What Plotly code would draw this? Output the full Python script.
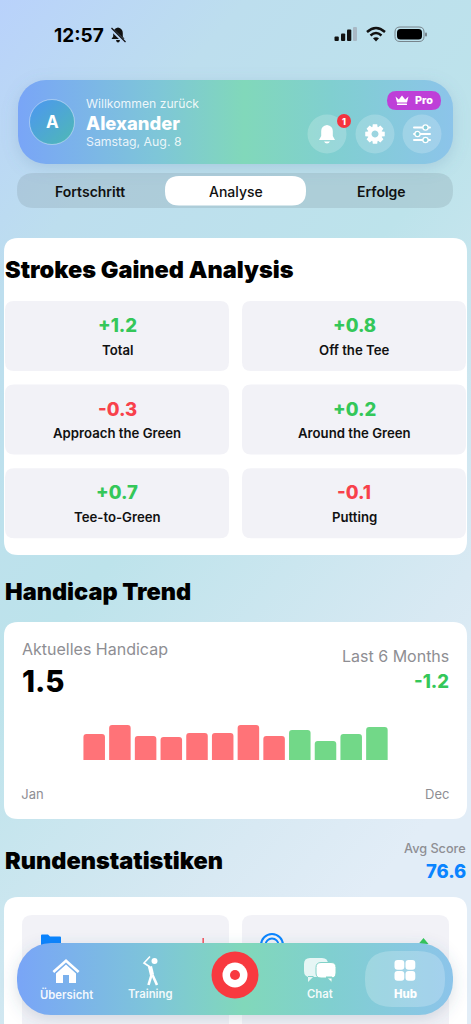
import base64, re, math
import plotly.graph_objects as go

# ---- data ----
months = list(range(12))
handicap_values = [2.6, 3.5, 2.4, 2.3, 2.7, 2.7, 3.5, 2.4, 3.0, 1.9, 2.6, 3.3]
bar_states = ["up", "up", "up", "up", "up", "up", "up", "up", "down", "down", "down", "down"]
tick_positions = [-2.4, 13.35]
tick_labels = ["Jan", "Dec"]
sg_labels = ["Total", "Off the Tee", "Approach the Green", "Around the Green", "Tee-to-Green", "Putting"]
sg_values = [1.2, 0.8, -0.3, 0.2, 0.7, -0.1]

W, H = 471, 1024
FONT = "Inter"
RED, GREEN = "#F8414B", "#34C759"
BAR_COL = {"up": "#FF7378", "down": "#72D888"}
GRAY = "#8E8E93"
shapes, notes = [], []


def rr(x0, y0, x1, y1, r):
    return (f"M {x0+r} {y0} L {x1-r} {y0} Q {x1} {y0} {x1} {y0+r} L {x1} {y1-r} Q {x1} {y1} {x1-r} {y1} "
            f"L {x0+r} {y1} Q {x0} {y1} {x0} {y1-r} L {x0} {y0+r} Q {x0} {y0} {x0+r} {y0} Z")


def shift(path, cx, cy):
    out, isx = [], True
    for tok in path.split():
        if re.match(r"^[A-Za-z]$", tok):
            out.append(tok)
            isx = True
        else:
            out.append(str(float(tok) + (cx if isx else cy)))
            isx = not isx
    return " ".join(out)


def P(path, fill="white", layer="below", line=None, lw=0):
    shapes.append(dict(type="path", path=path, xref="x", yref="y", layer=layer,
                       fillcolor=fill, line=dict(width=lw, color=line or "rgba(0,0,0,0)")))


def C(cx, cy, r, fill, layer="below", line=None, lw=0):
    shapes.append(dict(type="circle", xref="x", yref="y", x0=cx-r, x1=cx+r, y0=cy-r, y1=cy+r, layer=layer,
                       fillcolor=fill, line=dict(width=lw, color=line or "rgba(0,0,0,0)")))


def L(path, color="white", lw=2, layer="below"):
    shapes.append(dict(type="path", path=path, xref="x", yref="y", layer=layer,
                       fillcolor="rgba(0,0,0,0)", line=dict(width=lw, color=color)))


def T(text, x, y, size, color="#000000", weight=400, anchor="left"):
    notes.append(dict(text=text, x=x, y=y, xref="x", yref="y", showarrow=False, xanchor=anchor, yanchor="middle",
                      borderpad=0, font=dict(family=FONT, size=size, color=color, weight=weight)))


BAND = ('<stop offset="0" stop-color="#79A5F7"/><stop offset=".32" stop-color="#7EC6D8"/>'
        '<stop offset=".52" stop-color="#81D8BA"/><stop offset=".72" stop-color="#80CFD0"/>'
        '<stop offset="1" stop-color="#8CC4EA"/>')


def svg(body):
    s = (f'<svg xmlns="http://www.w3.org/2000/svg" width="{W*2}" height="{H*2}" viewBox="0 0 {W} {H}"><defs>'
         f'<linearGradient id="bg" x1="0" y1="0" x2="0.55" y2="1"><stop offset="0" stop-color="#B9D2FB"/>'
         f'<stop offset=".22" stop-color="#BDDEEE"/><stop offset=".52" stop-color="#BDE3EB"/>'
         f'<stop offset=".85" stop-color="#D8E9F3"/><stop offset="1" stop-color="#E2EDF7"/></linearGradient>'
         f'<linearGradient id="band" x1="0" y1="0" x2="1" y2="0">{BAND}</linearGradient>'
         f'<linearGradient id="av" x1="0" y1="0" x2="1" y2="1"><stop offset="0" stop-color="#4C96F2"/>'
         f'<stop offset="1" stop-color="#4FB9B4"/></linearGradient>'
         f'<filter id="sh" x="-20%" y="-60%" width="140%" height="220%"><feGaussianBlur stdDeviation="8"/></filter>'
         f'</defs>{body}</svg>')
    return "data:image/svg+xml;base64," + base64.b64encode(s.encode()).decode()


bg_svg = svg(
    f'<rect width="{W}" height="{H}" fill="url(#bg)"/>'
    '<rect x="18" y="84" width="435" height="84" rx="28" fill="#5A7FA8" fill-opacity=".22" filter="url(#sh)"/>'
    '<rect x="18" y="80" width="435" height="84" rx="28" fill="url(#band)"/>'
    '<circle cx="52" cy="122" r="22.5" fill="url(#av)" stroke="#FFFFFF" stroke-opacity=".4" stroke-width="1"/>')
nav_svg = svg(
    '<rect x="17" y="947" width="436" height="72" rx="34" fill="#40607A" fill-opacity=".2" filter="url(#sh)"/>'
    '<rect x="17" y="943" width="436" height="72" rx="34" fill="url(#band)"/>')
images = [dict(source=s, xref="paper", yref="paper", x=0, y=1, sizex=1, sizey=1, xanchor="left", yanchor="top",
               sizing="stretch", layer=l) for s, l in ((bg_svg, "below"), (nav_svg, "above"))]

# ---- status bar ----
T("12:57", 52.5, 35, 19, "#000000", 700)
P(shift("M -6.5 4 L -4.8 1.5 L -4.8 -2 Q -4.8 -6.5 0 -7.5 Q 4.8 -6.5 4.8 -2 L 4.8 1.5 L 6.5 4 Z", 118, 35), "#111111")
P(shift("M -2 5 L 2 5 Q 1.5 7.5 0 7.5 Q -1.5 7.5 -2 5 Z", 118, 35), "#111111")
L("M 110.5 28.5 L 125 42.5", "#BBD6F6", 3.2)
L("M 111.5 28 L 125.5 42", "#111111", 1.3)
for x0, x1, top, col in ((334.5, 338.8, 36.5, "#111"), (341, 345.2, 33.5, "#111"), (347, 351.3, 29.5, "#111"), (353, 357, 27, "#A9B8C4")):
    P(rr(x0, top, x1, 41, 1), col)
L("M 367 32 Q 376 24 385 32", "#111111", 2.4)
L("M 370.5 35.5 Q 376 30.5 381.5 35.5", "#111111", 2.4)
P("M 373 38.3 Q 376 36 379 38.3 L 376 41.5 Z", "#111111")
P(rr(395, 27, 424, 41.5, 5), "rgba(0,0,0,0)", line="#77848C", lw=1)
P(rr(397, 29, 422, 39.5, 3.5), "#000000")
P(rr(425, 32.5, 427, 36.5, 1), "#77848C")

# ---- header ----
T("A", 52, 122, 17, "white", 700, "center")
T("Willkommen zurück", 85, 103, 12.2, "rgba(255,255,255,.88)", 400)
T("Alexander", 85, 122.5, 18.4, "white", 800)
T("Samstag, Aug. 8", 85, 141, 12.3, "rgba(255,255,255,.85)", 400)
P(rr(387, 91, 441, 110, 9.5), "#BE3FD8")
P(shift("M -6.5 -4 L -3.2 -1 L 0 -5 L 3.2 -1 L 6.5 -4 L 5 2 L -5 2 Z", 402, 100.5))
P(rr(397, 103.5, 407, 105, .5))
T("Pro", 414, 100.5, 10.8, "white", 800)
for cx in (327, 375, 422):
    C(cx, 134, 19.5, "rgba(255,255,255,.2)")
P(shift("M -8 6 L -5.8 2 L -5.8 -3 Q -5.8 -8 0 -9 Q 5.8 -8 5.8 -3 L 5.8 2 L 8 6 Z", 327, 134))
P(shift("M -3 7.5 L 3 7.5 Q 2 9.5 0 9.5 Q -2 9.5 -3 7.5 Z", 327, 134))
C(344, 121, 7, "#F5333F")
T("1", 344, 121, 9, "white", 800, "center")
gear = []
for k in range(8):
    a = k * math.pi / 4
    for da, r in ((-.36, 7.4), (-.22, 10), (.22, 10), (.36, 7.4)):
        gear.append((375 + r * math.cos(a + da), 134 + r * math.sin(a + da)))
hole = [(375 + 3.5 * math.cos(k * math.pi / 10), 134 + 3.5 * math.sin(k * math.pi / 10)) for k in range(20)]
gpath = "M " + " L ".join(f"{x:.2f} {y:.2f}" for x, y in gear) + " Z M " + " L ".join(f"{x:.2f} {y:.2f}" for x, y in hole) + " Z"
P(gpath)
for y, kx in ((127.5, 425.5), (134, 417.5), (140, 425.5)):
    P(rr(413, y - 1, 431, y + 1, 1))
    C(kx, y, 2.6, "#84CBD8", line="white", lw=1.3)

# ---- segmented control ----
P(rr(17, 173, 453, 208, 17), "rgba(110,130,140,.2)")
P(rr(165, 176, 306, 205.5, 14), "#FFFFFF")
T("Fortschritt", 90, 191, 14, "#111111", 600, "center")
T("Analyse", 235.5, 191, 14, "#111111", 500, "center")
T("Erfolge", 381, 191, 14, "#111111", 600, "center")

# ---- strokes gained ----
P(rr(4, 238, 467, 555, 14), "#FFFFFF")
T("Strokes Gained Analysis", 4, 269.5, 23.5, "#000000", 900)
for i, (lab, val) in enumerate(zip(sg_labels, sg_values)):
    col, row = i % 2, i // 2
    x0 = 5 if col == 0 else 242
    x1 = 229 if col == 0 else 466
    y0 = 301 + row * 83.6
    P(rr(x0, y0, x1, y0 + 70, 9), "#F2F2F7")
    T(f"{val:+.1f}", (x0 + x1) / 2, y0 + 24, 18.5, GREEN if val > 0 else RED, 800, "center")
    T(lab, (x0 + x1) / 2, y0 + 48.5, 13.2, "#111111", 600, "center")

# ---- handicap ----
T("Handicap Trend", 4, 591, 23.5, "#000000", 900)
P(rr(4, 622, 467, 819, 14), "#FFFFFF")
T("Aktuelles Handicap", 21, 649, 16, GRAY, 400)
T("1.5", 21, 681, 29.5, "#000000", 800)
T("Last 6 Months", 449.5, 656, 16, GRAY, 400, "right")
T("-1.2", 449.5, 681, 18.4, GREEN, 800, "right")

# ---- round stats ----
T("Rundenstatistiken", 4, 860, 23.5, "#000000", 900)
T("Avg Score", 466.5, 848, 12.7, GRAY, 500, "right")
T("76.6", 466.5, 870.5, 18.4, "#0A84FF", 800, "right")
P("M 4 1040 L 4 911 Q 4 897 18 897 L 453 897 Q 467 897 467 911 L 467 1040 Z", "#FFFFFF")
P(rr(22, 915, 229, 1040, 10), "#F2F2F7")
P(rr(242, 915, 449, 1040, 10), "#F2F2F7")
P("M 41 950 L 41 935.5 Q 41 934.5 42 934.5 L 48 934.5 L 50 936.5 L 60 936.5 Q 61 936.5 61 937.5 L 61 950 Z", "#0A84FF")
P("M 202.5 938 L 203.8 938 L 203.8 950 L 202.5 950 Z", "#F5333F")
C(272, 945, 11, "rgba(0,0,0,0)", line="#0A84FF", lw=2)
C(272, 945, 6.5, "rgba(0,0,0,0)", line="#0A84FF", lw=2)
P("M 423.5 938 L 428.5 944 L 418.5 944 Z", GREEN)

# ---- bottom nav (above everything) ----
P(rr(365, 951, 445, 1007, 27), "rgba(255,255,255,.22)", "above")
C(235, 975, 23.5, "#F8393F", "above")
C(235, 975, 12.5, "#FFFFFF", "above")
C(235, 975, 5, "#F8393F", "above")
T("Übersicht", 66, 994, 11.3, "rgba(255,255,255,.92)", 600, "center")
T("Training", 150, 994, 11.3, "rgba(255,255,255,.92)", 600, "center")
T("Chat", 320, 994, 11.3, "rgba(255,255,255,.92)", 600, "center")
T("Hub", 405, 994, 11.4, "#FFFFFF", 800, "center")
P(shift("M -13.5 -1 L 0 -13 L 13.5 -1 L 11.8 1 L 0 -9.5 L -11.8 1 Z", 66, 972), layer="above")
P(shift("M -10 1.5 L 0 -7.5 L 10 1.5 L 10 11 L -10 11 Z M -3 3 L 3 3 L 3 11 L -3 11 Z", 66, 972), layer="above")
C(154.5, 961, 3, "#FFFFFF", "above")
L("M 150 956.5 L 144 963 L 150 967", "white", 1.6, "above")
L("M 150 966.5 L 152 975", "white", 4.2, "above")
L("M 151.5 975 L 148.5 985", "white", 2.6, "above")
L("M 152.5 975 L 157 985", "white", 2.6, "above")
P(rr(304, 958, 328, 977, 6) + " M 308 976 L 308 982 L 314 976 Z", "rgba(255,255,255,.8)", "above")
P(rr(316, 962.5, 336, 978, 5) + " M 326 977 L 332 982.5 L 332 977 Z", "#FFFFFF", "above", line="#82D2C8", lw=1)
for x0 in (394.5, 405.5):
    for y0 in (960, 971):
        P(rr(x0, y0, x0 + 9.8, y0 + 9.8, 3), "#FFFFFF", "above")

# ---- chart: pixel helper axes (x/y) + real bars (x2/y2) ----
fig = go.Figure()
fig.add_trace(go.Scatter(x=[0], y=[0], xaxis="x", yaxis="y", mode="markers", marker=dict(opacity=0),
                         hoverinfo="skip", showlegend=False))
fig.add_trace(go.Bar(x=months, y=handicap_values, xaxis="x2", yaxis="y2", showlegend=False,
                     marker=dict(color=[BAR_COL[s] for s in bar_states], cornerradius=3, line=dict(width=0))))

bar0, pitch = 94.2, 25.7
y_base, y_axis, y_top = 760, 785, 700
fig.update_layout(
    width=W, height=H, margin=dict(l=0, r=0, t=0, b=0), autosize=False,
    paper_bgcolor="rgba(0,0,0,0)", plot_bgcolor="rgba(0,0,0,0)", bargap=0.163, showlegend=False,
    font=dict(family=FONT),
    xaxis=dict(range=[0, W], domain=[0, 1], visible=False, fixedrange=True),
    yaxis=dict(range=[H, 0], domain=[0, 1], visible=False, fixedrange=True),
    xaxis2=dict(anchor="y2", domain=[0, 1], range=[(0 - bar0) / pitch, (W - bar0) / pitch], tickmode="array",
                tickvals=tick_positions, ticktext=tick_labels, ticks="", showgrid=False, zeroline=False,
                showline=False, fixedrange=True, tickfont=dict(family=FONT, size=13, color=GRAY)),
    yaxis2=dict(anchor="x2", domain=[1 - y_axis / H, 1 - y_top / H], range=[(y_base - y_axis) / 10, (y_base - y_top) / 10],
                visible=False, fixedrange=True),
    shapes=shapes, annotations=notes, images=images,
)
fig.write_html("out.html", config=dict(displayModeBar=False),
               post_script="document.body.style.margin='0';document.body.style.overflow='hidden';")
